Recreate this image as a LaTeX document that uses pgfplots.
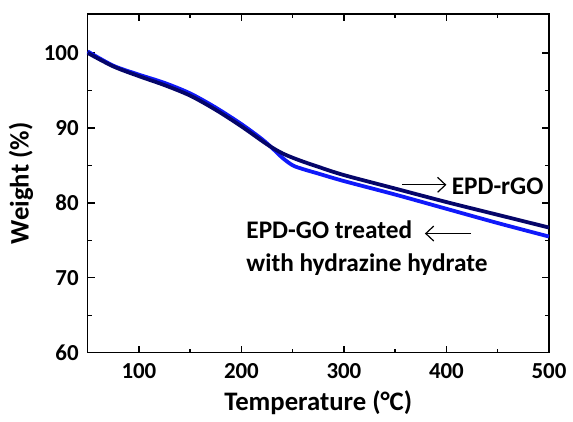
\documentclass[border=0pt]{standalone}
\usepackage{fontspec}
\setmainfont{Carlito}
\usepackage{pgfplots}
\pgfplotsset{compat=1.18}
\usetikzlibrary{arrows.meta}
\definecolor{rgoNavy}{RGB}{5,5,105}
\definecolor{hydBlue}{RGB}{15,25,250}

\begin{document}
\begin{tikzpicture}
  \begin{axis}[
      scale only axis,
      width=231.5pt, height=170pt,
      xmin=50, xmax=500, ymin=60, ymax=105.2,
      xtick={100,200,300,400,500},
      ytick={60,70,80,90,100},
      minor x tick num=1, minor y tick num=1,
      tick align=inside, tick pos=both,
      major tick length=3.5pt, minor tick length=2pt,
      axis line style={line width=0.8pt},
      every tick/.style={line width=0.7pt, black},
      tick label style={font=\fontsize{11.5}{13}\selectfont\bfseries},
      x tick label style={yshift=-2pt},
      y tick label style={xshift=-1pt},
      /pgf/number format/assume math mode=true,
      label style={font=\fontsize{13.4}{15}\selectfont\bfseries},
      xlabel={Temperature (°C)},
      ylabel={Weight (\%)},
      xlabel style={yshift=1pt},
      ylabel style={yshift=-1.5pt},
      clip=false,
    ]
    % EPD-GO treated with hydrazine hydrate
    \addplot[hydBlue, line width=1.9pt, smooth] coordinates {
      (50,100.2) (75,98.3) (100,97.1) (125,96.0) (150,94.6) (175,92.7)
      (200,90.5) (220,88.5) (230,87.3) (240,86.0) (250,85.0) (260,84.5)
      (275,83.9) (300,82.9) (350,81.1) (400,79.2) (450,77.3) (500,75.5)
    };
    % EPD-rGO
    \addplot[rgoNavy, line width=1.9pt, smooth] coordinates {
      (50,100.0) (75,98.2) (100,96.9) (125,95.7) (150,94.3) (175,92.4)
      (200,90.2) (225,87.8) (240,86.6) (256,85.7) (275,84.8) (300,83.7)
      (350,81.9) (400,80.1) (450,78.4) (500,76.7)
    };
    \draw[-{Straight Barb[length=4pt,width=7.5pt]}, line width=0.6pt]
      (axis cs:357,82.4) -- (axis cs:400,82.4);
    \node[anchor=west, inner sep=0pt, font=\fontsize{12.7}{14}\selectfont\bfseries]
      at (axis cs:404.8,82.2) {EPD-rGO};
    \draw[-{Straight Barb[length=4pt,width=7.5pt]}, line width=0.6pt]
      (axis cs:424,75.9) -- (axis cs:379,75.9);
    \node[anchor=base west, inner sep=0pt, font=\fontsize{12.7}{14}\selectfont\bfseries]
      at (axis cs:204.5,75.2) {EPD-GO treated};
    \node[anchor=base west, inner sep=0pt, font=\fontsize{12.7}{14}\selectfont\bfseries]
      at (axis cs:204.5,70.8) {with hydrazine hydrate};
  \end{axis}
  \path (current axis.north) -- ++(0,7pt);
  \path (current axis.west) -- ++(-44pt,0);
\end{tikzpicture}
\end{document}
